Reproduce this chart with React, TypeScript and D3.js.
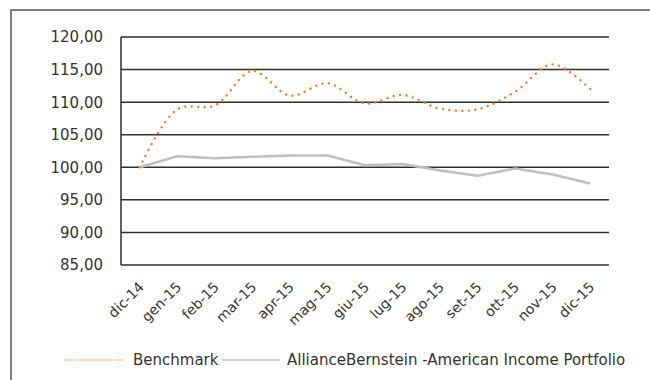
import React from "react";
import * as d3 from "d3";

const categories = ["dic-14","gen-15","feb-15","mar-15","apr-15","mag-15","giu-15","lug-15","ago-15","set-15","ott-15","nov-15","dic-15"];
const benchmark = [100.0,108.9,109.5,114.8,111.0,112.9,109.8,111.1,109.0,108.9,111.6,115.8,112.0];
const portfolio = [100.0,101.7,101.4,101.6,101.8,101.8,100.3,100.5,99.5,98.7,99.8,98.9,97.5];
const yTicks = [85,90,95,100,105,110,115,120];
const seriesNames = ["Benchmark","AllianceBernstein -American Income Portfolio"];

const W = 650, H = 380;
const FONT = "'DejaVu Sans', sans-serif";

export default function App() {
  const x = d3.scaleBand().domain(categories).range([121, 609]);
  const y = d3.scaleLinear().domain([85, 120]).range([265, 37]);
  const cx = (c: string) => (x(c) as number) + x.bandwidth() / 2;
  const line = d3.line<number>().x((_, i) => cx(categories[i])).y(v => y(v)).curve(d3.curveCatmullRom.alpha(0.5));
  const lineStraight = d3.line<number>().x((_, i) => cx(categories[i])).y(v => y(v));
  const fmt = (v: number) => v.toFixed(2).replace(".", ",");
  return (
    <svg width={W} height={H} style={{ position: "absolute", left: 0, top: 0, background: "#fff" }}>
      <rect x={0} y={0} width={W} height={H} fill="#fff" />
      <path d={`M11,${H + 2}V10H${W + 2}`} fill="none" stroke="#555" strokeWidth={1.5} />
      {yTicks.map(t => (
        <g key={t}>
          <line x1={121} x2={609} y1={y(t)} y2={y(t)} stroke="#2e2e2e" strokeWidth={1.5} />
          <text x={103} y={y(t)} dy="0.36em" textAnchor="end" fontFamily={FONT} fontSize={15} fill="#333">{fmt(t)}</text>
        </g>
      ))}
      <line x1={121} x2={121} y1={37} y2={265} stroke="#2e2e2e" strokeWidth={1.5} />
      {categories.map(c => (
        <text key={c} transform={`translate(${cx(c) + 5},${288}) rotate(-45)`} textAnchor="end" fontFamily={FONT} fontSize={14} fill="#333">{c}</text>
      ))}
      <path d={lineStraight(portfolio) || ""} fill="none" stroke="#BFBFBF" strokeWidth={2.5} strokeLinejoin="round" />
      <path d={line(benchmark) || ""} fill="none" stroke="#ED7D31" strokeWidth={2.4} strokeDasharray="0.1 6.4" strokeLinecap="round" />
      <g>
        <line x1={65} x2={124} y1={360} y2={360} stroke="#ED7D31" strokeWidth={1.2} strokeDasharray="1.5 1.5" />
        <text x={133} y={360} dy="0.36em" fontFamily={FONT} fontSize={15} fill="#333">{seriesNames[0]}</text>
        <line x1={222} x2={280} y1={360} y2={360} stroke="#BFBFBF" strokeWidth={1.5} />
        <text x={287} y={360} dy="0.36em" fontFamily={FONT} fontSize={15} fill="#333">{seriesNames[1]}</text>
      </g>
    </svg>
  );
}
